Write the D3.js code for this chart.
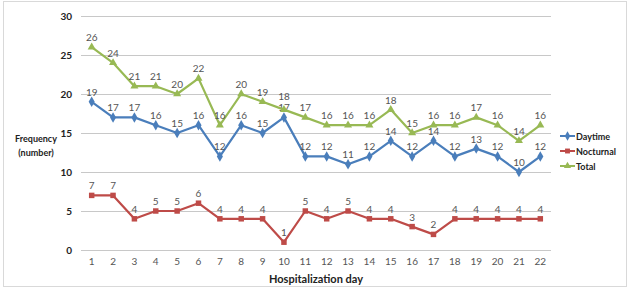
<!DOCTYPE html>
<html><head><meta charset="utf-8">
<script src="https://cdn.jsdelivr.net/npm/d3@7"></script>
<style>
html,body{margin:0;padding:0;background:#fff;}
svg{display:block;font-family:Lato,"Open Sans",sans-serif;}
</style></head>
<body>
<svg id="chart" width="643" height="292"></svg>
<script>
const days = ["1","2","3","4","5","6","7","8","9","10","11","12","13","14","15","16","17","18","19","20","21","22"];
const daytime = [19,17,17,16,15,16,12,16,15,17,12,12,11,12,14,12,14,12,13,12,10,12];
const nocturnal = [7,7,4,5,5,6,4,4,4,1,5,4,5,4,4,3,2,4,4,4,4,4];
const total = [26,24,21,21,20,22,16,20,19,18,17,16,16,16,18,15,16,16,17,16,14,16];
const yTicks = [0,5,10,15,20,25,30];
const seriesNames = ["Daytime","Nocturnal","Total"];
const colors = ["#4A7EBB","#BE4B48","#98B954"];

const svg = d3.select("#chart");
svg.append("rect").attr("x",3.5).attr("y",1.5).attr("width",623).attr("height",285)
  .attr("fill","none").attr("stroke","#d9d9d9").attr("stroke-width",1);

const L = 81, R = 551, T = 16, B = 250;
const x = d3.scaleBand().domain(days).range([L,R]);
const y = d3.scaleLinear().domain([0,30]).range([B,T]);
const cx = d => x(d) + x.bandwidth()/2;

svg.append("g").selectAll("line").data(yTicks).join("line")
  .attr("x1",L).attr("x2",R).attr("y1",d=>Math.round(y(d))+0.5).attr("y2",d=>Math.round(y(d))+0.5)
  .attr("stroke","#c8c8c8").attr("stroke-width",1);

const yAxis = d3.axisLeft(y).tickValues(yTicks).tickSize(0).tickPadding(9);
const gy = svg.append("g").attr("transform",`translate(${L},0)`).call(yAxis);
gy.select(".domain").remove();
gy.selectAll("text").attr("font-size",10).attr("font-weight","bold").attr("fill","#222").attr("font-family","Lato,'Open Sans',sans-serif");

const xAxis = d3.axisBottom(x).tickSize(0).tickPadding(8);
const gx = svg.append("g").attr("transform",`translate(0,${B})`).call(xAxis);
gx.select(".domain").remove();
gx.selectAll("text").attr("font-size",10).attr("fill","#555").attr("font-family","Lato,'Open Sans',sans-serif");

svg.append("text").attr("x",316).attr("y",283).attr("text-anchor","middle")
  .attr("font-size",11).attr("font-weight","bold").attr("fill","#222").text("Hospitalization day");
svg.append("text").attr("x",36).attr("y",142).attr("text-anchor","middle")
  .attr("font-size",9).attr("font-weight","bold").attr("fill","#222").text("Frequency");
svg.append("text").attr("x",36).attr("y",156).attr("text-anchor","middle")
  .attr("font-size",9).attr("font-weight","bold").attr("fill","#222").text("(number)");

const data = [daytime, nocturnal, total];
const symbols = [d3.symbolDiamond, d3.symbolSquare, d3.symbolTriangle];
const symSizes = [32, 30, 28];
const line = d3.line().x((v,i)=>cx(days[i])).y(v=>y(v));

// label offset: lift a Total label when it would collide with the Daytime label below it
function labelY(si, v, i){
  let ly = y(v) - 6;
  if (si === 2){
    const dy = y(daytime[i]) - 6;
    if (Math.abs(dy - ly) < 11) ly = dy - 11;
  }
  return ly;
}

data.forEach((vals,si)=>{
  const g = svg.append("g");
  g.append("path").datum(vals).attr("d",line).attr("fill","none")
    .attr("stroke",colors[si]).attr("stroke-width",2.2).attr("stroke-linejoin","round");
  g.selectAll("path.m").data(vals).join("path").attr("class","m")
    .attr("transform",(v,i)=>`translate(${cx(days[i])},${y(v)})`)
    .attr("d",d3.symbol().type(symbols[si]).size(symSizes[si]))
    .attr("fill",colors[si]);
  g.selectAll("text").data(vals).join("text")
    .attr("x",(v,i)=>cx(days[i])).attr("y",(v,i)=>labelY(si,v,i))
    .attr("text-anchor","middle").attr("font-size",10).attr("fill","#555").text(v=>v);
});

const lg = svg.append("g");
const ly = [136,151,166];
seriesNames.forEach((n,i)=>{
  lg.append("line").attr("x1",560).attr("x2",575).attr("y1",ly[i]).attr("y2",ly[i])
    .attr("stroke",colors[i]).attr("stroke-width",2);
  lg.append("path").attr("transform",`translate(567.5,${ly[i]})`)
    .attr("d",d3.symbol().type(symbols[i]).size(symSizes[i]*0.8)).attr("fill",colors[i]);
  lg.append("text").attr("x",576).attr("y",ly[i]+3.5).attr("font-size",9).attr("font-weight","bold")
    .attr("fill","#222").text(n);
});
</script>
</body></html>
